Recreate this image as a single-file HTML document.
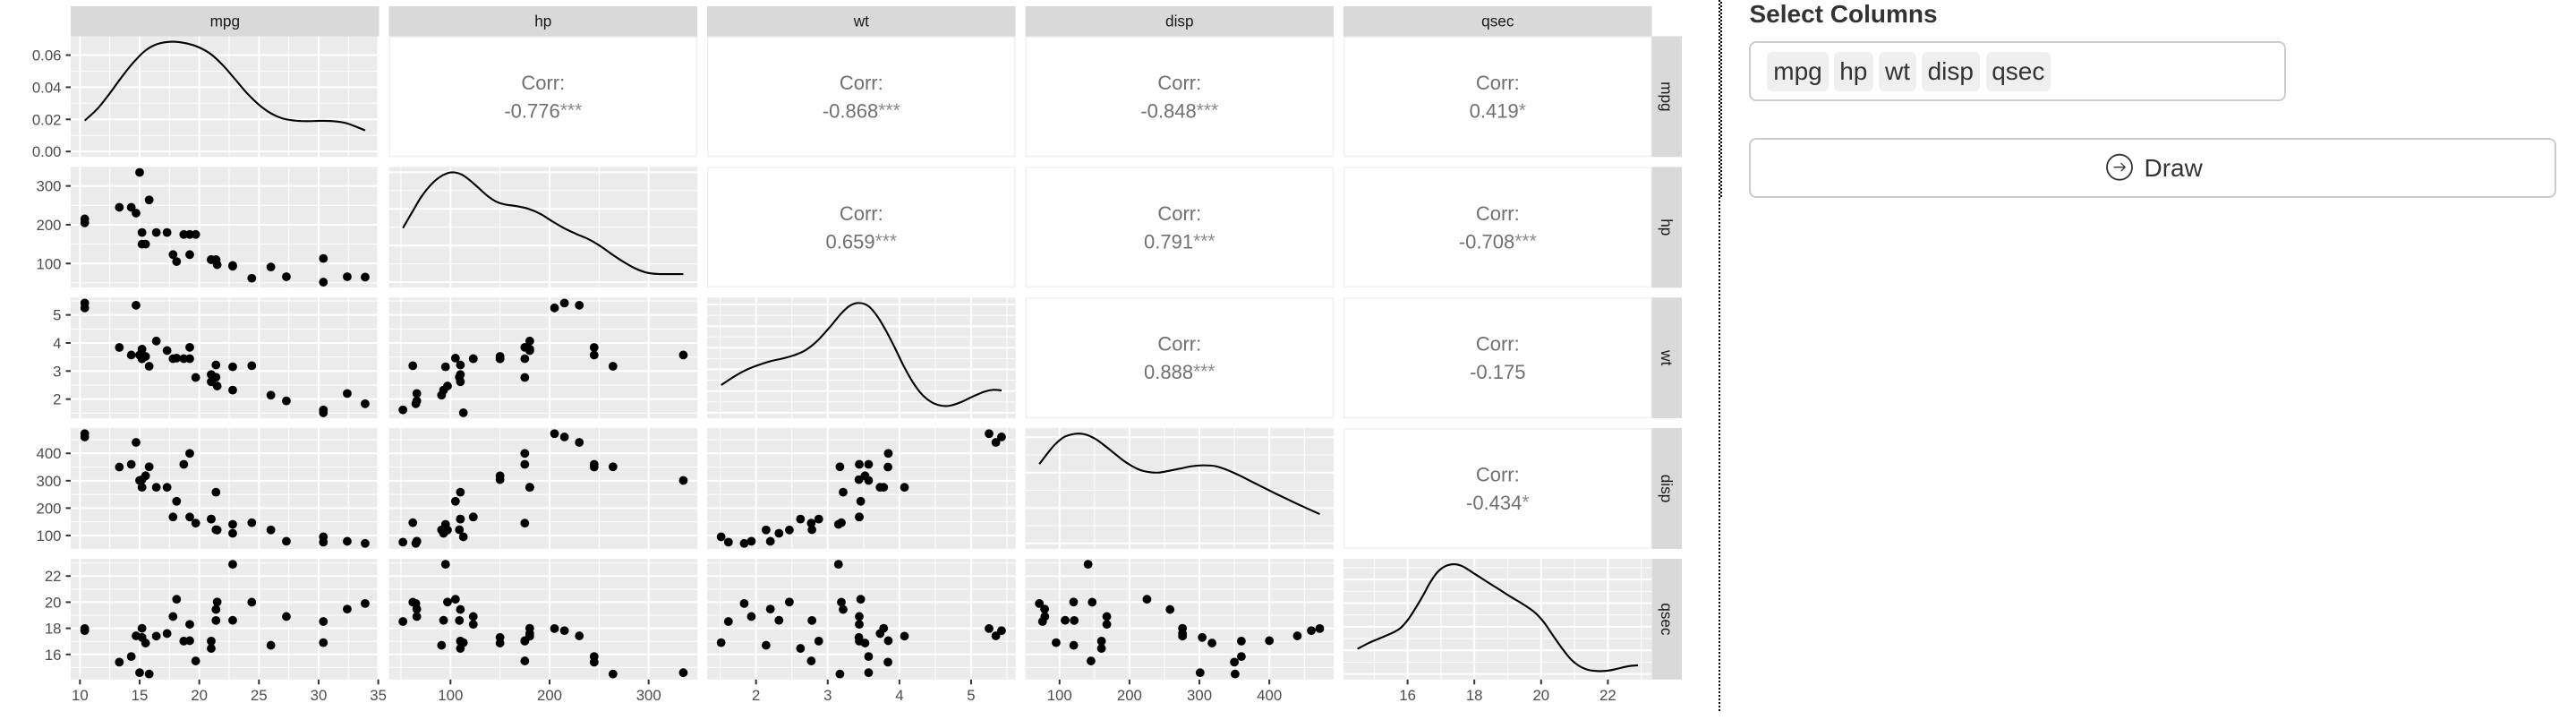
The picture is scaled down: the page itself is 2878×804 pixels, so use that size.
<!DOCTYPE html>
<html lang="en">
<head>
<meta charset="utf-8">
<title>Pairs plot</title>
<style>
html,body{margin:0;padding:0;background:#fff;}
body{position:relative;width:2878px;height:804px;overflow:hidden;font-family:"Liberation Sans",Arial,sans-serif;color:#333;}
#chart{position:absolute;left:0;top:0;}
.abs{position:absolute;box-sizing:border-box;}
.tag{position:absolute;top:58px;height:43.7px;background:#efefef;border-radius:6px;font-size:28px;line-height:32px;padding-top:6.3px;text-align:center;color:#333;box-sizing:border-box;}
</style>
</head>
<body>
<svg id="chart" width="2878" height="804" viewBox="0 0 2878 804"></svg>

<svg class="abs" style="left:1920px;top:0" width="4" height="800">
  <line x1="1" y1="0" x2="1" y2="795" stroke="#000" stroke-width="2" stroke-dasharray="2 2"/>
  <line x1="3" y1="2" x2="3" y2="222" stroke="#000" stroke-width="2" stroke-dasharray="2 2"/>
</svg>

<div class="abs" style="left:1954.5px;top:0.3px;font-size:28px;line-height:32px;font-weight:bold;color:#333;white-space:nowrap">Select Columns</div>
<div class="abs" style="left:1954px;top:46.3px;width:599.5px;height:67px;border:2px solid #ccc;border-radius:8px;background:#fff"></div>
<div class="tag" style="left:1974px;width:69px">mpg</div>
<div class="tag" style="left:2049px;width:43.6px">hp</div>
<div class="tag" style="left:2099px;width:42px">wt</div>
<div class="tag" style="left:2147px;width:64.6px">disp</div>
<div class="tag" style="left:2218.6px;width:72.4px">qsec</div>

<div class="abs" style="left:1954px;top:154.3px;width:902px;height:67px;border:2px solid #ccc;border-radius:8px;background:#fff"></div>
<svg class="abs" style="left:2352px;top:171px" width="32" height="32" viewBox="0 0 32 32">
  <circle cx="16" cy="15.7" r="14" fill="none" stroke="#333" stroke-width="1.8"/>
  <path d="M9.6 15.7H22.2M17.6 11.2L22.2 15.7L17.6 20.2" fill="none" stroke="#333" stroke-width="1.3"/>
</svg>
<div class="abs" style="left:2395.5px;top:172.3px;font-size:28px;line-height:32px;color:#333;white-space:nowrap">Draw</div>

<script>
const variables = ['mpg', 'hp', 'wt', 'disp', 'qsec'];

const mpgValues = [21, 21, 22.8, 21.4, 18.7, 18.1, 14.3, 24.4, 22.8, 19.2, 17.8, 16.4, 17.3, 15.2, 10.4, 10.4, 14.7, 32.4, 30.4, 33.9, 21.5, 15.5, 15.2, 13.3, 19.2, 27.3, 26, 30.4, 15.8, 19.7, 15, 21.4];
const hpValues = [110, 110, 93, 110, 175, 105, 245, 62, 95, 123, 123, 180, 180, 180, 205, 215, 230, 66, 52, 65, 97, 150, 150, 245, 175, 66, 91, 113, 264, 175, 335, 109];
const wtValues = [2.62, 2.875, 2.32, 3.215, 3.44, 3.46, 3.57, 3.19, 3.15, 3.44, 3.44, 4.07, 3.73, 3.78, 5.25, 5.424, 5.345, 2.2, 1.615, 1.835, 2.465, 3.52, 3.435, 3.84, 3.845, 1.935, 2.14, 1.513, 3.17, 2.77, 3.57, 2.78];
const dispValues = [160, 160, 108, 258, 360, 225, 360, 146.7, 140.8, 167.6, 167.6, 275.8, 275.8, 275.8, 472, 460, 440, 78.7, 75.7, 71.1, 120.1, 318, 304, 350, 400, 79, 120.3, 95.1, 351, 145, 301, 121];
const qsecValues = [16.46, 17.02, 18.61, 19.44, 17.02, 20.22, 15.84, 20, 22.9, 18.3, 18.9, 17.4, 17.6, 18, 17.98, 17.82, 17.42, 19.47, 18.52, 19.9, 20.01, 16.87, 17.3, 15.41, 17.05, 18.9, 16.7, 16.9, 14.5, 15.5, 14.6, 18.6];

const mpgDensityX = [10.4, 11.475, 12.475, 13.475, 14.475, 15.475, 16.475, 17.725, 18.975, 19.975, 20.975, 21.975, 22.975, 23.975, 24.975, 25.975, 26.975, 27.975, 28.975, 30.225, 31.225, 32.225, 32.975, 33.9];
const mpgDensityY = [0.01926, 0.02667, 0.03593, 0.04611, 0.05537, 0.06278, 0.06685, 0.06833, 0.06722, 0.06481, 0.06056, 0.0537, 0.04519, 0.03648, 0.02926, 0.02389, 0.02056, 0.01926, 0.01889, 0.01907, 0.01889, 0.01778, 0.01593, 0.01315];
const hpDensityX = [52, 61.5, 70.5, 79.5, 88.6, 97.6, 103.6, 111.1, 118.7, 127.7, 136.7, 145.7, 154.8, 166.8, 178.8, 190.9, 202.9, 214.9, 227, 239, 251, 263, 275, 287, 299, 311, 323, 335];
const hpDensityY = [0.002955, 0.003837, 0.004653, 0.005274, 0.005714, 0.005959, 0.005992, 0.005878, 0.0056, 0.005176, 0.004735, 0.004408, 0.004245, 0.004147, 0.004, 0.003722, 0.003314, 0.002939, 0.002629, 0.002351, 0.001976, 0.001518, 0.001094, 0.000735, 0.000506, 0.000441, 0.000441, 0.000441];
const wtDensityX = [1.513, 1.697, 1.863, 2.029, 2.195, 2.361, 2.527, 2.694, 2.86, 3.026, 3.192, 3.316, 3.441, 3.566, 3.69, 3.815, 3.939, 4.064, 4.189, 4.313, 4.438, 4.562, 4.687, 4.853, 5.019, 5.185, 5.31, 5.424];
const wtDensityY = [0.1277, 0.1676, 0.1978, 0.2198, 0.2376, 0.25, 0.2651, 0.2898, 0.3338, 0.3942, 0.4602, 0.4959, 0.5069, 0.4931, 0.4464, 0.3777, 0.2981, 0.2129, 0.1401, 0.0852, 0.0508, 0.0343, 0.0316, 0.0481, 0.0742, 0.0975, 0.1058, 0.103];
const dispDensityX = [71.1, 82.5, 93.2, 106, 118.7, 129.4, 140, 152.8, 165.6, 178.4, 191.2, 204, 216.8, 229.5, 242.3, 255.1, 272.1, 289.2, 306.2, 323.3, 340.3, 357.4, 374.4, 391.4, 408.5, 425.5, 442.6, 459.6, 472];
const dispDensityY = [0.00224, 0.002536, 0.00279, 0.003001, 0.003085, 0.003102, 0.00306, 0.002933, 0.002747, 0.002544, 0.002342, 0.002181, 0.002063, 0.002012, 0.002003, 0.002046, 0.002113, 0.002181, 0.002206, 0.002181, 0.002071, 0.001919, 0.00175, 0.001581, 0.001412, 0.001251, 0.00109, 0.000938, 0.000828];
const qsecDensityX = [14.5, 14.84, 15.2, 15.55, 15.78, 16, 16.22, 16.45, 16.67, 16.89, 17.12, 17.39, 17.65, 18.01, 18.37, 18.73, 19.08, 19.44, 19.8, 20.07, 20.33, 20.6, 20.87, 21.14, 21.41, 21.67, 21.99, 22.3, 22.61, 22.9];
const qsecDensityY = [0.05316, 0.06582, 0.07658, 0.08734, 0.09684, 0.1139, 0.1373, 0.1646, 0.193, 0.2152, 0.2278, 0.2323, 0.2278, 0.212, 0.1956, 0.1797, 0.1639, 0.1487, 0.131, 0.1108, 0.0842, 0.057, 0.0329, 0.0171, 0.0089, 0.0063, 0.007, 0.0114, 0.0165, 0.0184];

const mpgDomain = [9.225, 35.075];
const hpDomain = [37.85, 349.15];
const wtDomain = [1.3175, 5.6195];
const dispDomain = [51.055, 492.045];
const qsecDomain = [14.08, 23.32];

const mpgDensityDomain = [-0.003415, 0.071715];
const hpDensityDomain = [-0.0003, 0.006292];
const wtDensityDomain = [-0.025345, 0.532245];
const dispDensityDomain = [-0.000155, 0.003257];
const qsecDensityDomain = [-0.011615, 0.243915];

const mpgMajor = [10, 15, 20, 25, 30, 35];
const mpgMinor = [12.5, 17.5, 22.5, 27.5, 32.5];
const hpMajor = [100, 200, 300];
const hpMinor = [50, 150, 250];
const wtMajor = [2, 3, 4, 5];
const wtMinor = [1.5, 2.5, 3.5, 4.5, 5.5];
const dispMajor = [100, 200, 300, 400];
const dispMinor = [150, 250, 350, 450];
const qsecMajor = [16, 18, 20, 22];
const qsecMinor = [15, 17, 19, 21, 23];

const mpgDensityMajor = [0, 0.02, 0.04, 0.06];
const mpgDensityMinor = [0.01, 0.03, 0.05];
const mpgDensityLabels = ['0.00', '0.02', '0.04', '0.06'];
const hpDensityMajor = [0, 0.002, 0.004, 0.006];
const hpDensityMinor = [0.001, 0.003, 0.005];
const wtDensityMajor = [0, 0.1, 0.2, 0.3, 0.4, 0.5];
const wtDensityMinor = [0.05, 0.15, 0.25, 0.35, 0.45];
const dispDensityMajor = [0, 0.001, 0.002, 0.003];
const dispDensityMinor = [0.0005, 0.0015, 0.0025];
const qsecDensityMajor = [0, 0.05, 0.1, 0.15, 0.2];
const qsecDensityMinor = [0.025, 0.075, 0.125, 0.175, 0.225];

const corrHpMpg = '-0.776***';
const corrWtMpg = '-0.868***';
const corrDispMpg = '-0.848***';
const corrQsecMpg = '0.419*';
const corrWtHp = '0.659***';
const corrDispHp = '0.791***';
const corrQsecHp = '-0.708***';
const corrDispWt = '0.888***';
const corrQsecWt = '-0.175';
const corrQsecDisp = '-0.434*';

const valuesOf = [mpgValues, hpValues, wtValues, dispValues, qsecValues];
const domains = [mpgDomain, hpDomain, wtDomain, dispDomain, qsecDomain];
const majors = [mpgMajor, hpMajor, wtMajor, dispMajor, qsecMajor];
const minors = [mpgMinor, hpMinor, wtMinor, dispMinor, qsecMinor];
const densityXs = [mpgDensityX, hpDensityX, wtDensityX, dispDensityX, qsecDensityX];
const densityYs = [mpgDensityY, hpDensityY, wtDensityY, dispDensityY, qsecDensityY];
const densityDomains = [mpgDensityDomain, hpDensityDomain, wtDensityDomain, dispDensityDomain, qsecDensityDomain];
const densityMajors = [mpgDensityMajor, hpDensityMajor, wtDensityMajor, dispDensityMajor, qsecDensityMajor];
const densityMinors = [mpgDensityMinor, hpDensityMinor, wtDensityMinor, dispDensityMinor, qsecDensityMinor];
const corrRows = [
  [null, corrHpMpg, corrWtMpg, corrDispMpg, corrQsecMpg],
  [null, null, corrWtHp, corrDispHp, corrQsecHp],
  [null, null, null, corrDispWt, corrQsecWt],
  [null, null, null, null, corrQsecDisp]
];

const NS = 'http://www.w3.org/2000/svg';
const root = document.getElementById('chart');
const FONT = '"Liberation Sans", Arial, sans-serif';
const PANEL_W = 344.6;
const PANEL_H = 134.8;
const colLeft = function (c) { return 79 + c * 355.5; };
const rowTop = function (r) { return 40.5 + r * 145.87; };

function make(tag, attrs, parent) {
  const el = document.createElementNS(NS, tag);
  Object.keys(attrs).forEach(function (k) { el.setAttribute(k, attrs[k]); });
  parent.appendChild(el);
  return el;
}
function xScale(c, v) {
  const d = domains[c];
  return colLeft(c) + (v - d[0]) / (d[1] - d[0]) * PANEL_W;
}
function yScale(r, v, dom) {
  return rowTop(r) + PANEL_H - (v - dom[0]) / (dom[1] - dom[0]) * PANEL_H;
}
function smoothPath(pts) {
  let p = 'M' + pts[0][0].toFixed(2) + ' ' + pts[0][1].toFixed(2);
  for (let i = 0; i < pts.length - 1; i++) {
    const a = pts[Math.max(i - 1, 0)], b = pts[i], c = pts[i + 1], d = pts[Math.min(i + 2, pts.length - 1)];
    const c1x = b[0] + (c[0] - a[0]) / 6, c1y = b[1] + (c[1] - a[1]) / 6;
    const c2x = c[0] - (d[0] - b[0]) / 6, c2y = c[1] - (d[1] - b[1]) / 6;
    p += 'C' + c1x.toFixed(2) + ' ' + c1y.toFixed(2) + ' ' + c2x.toFixed(2) + ' ' + c2y.toFixed(2) + ' ' + c[0].toFixed(2) + ' ' + c[1].toFixed(2);
  }
  return p;
}
function drawGrid(g, c, r, yDom, yMajor, yMinor) {
  const L = colLeft(c), T = rowTop(r);
  yMinor.forEach(function (v) {
    const y = yScale(r, v, yDom);
    const ln = make('line', { x1: L, x2: L + PANEL_W, y1: y, y2: y, stroke: '#fff', 'stroke-width': 1 }, g);
    
    
  });
  minors[c].forEach(function (v) {
    const x = xScale(c, v);
    const ln = make('line', { x1: x, x2: x, y1: T, y2: T + PANEL_H, stroke: '#fff', 'stroke-width': 1 }, g);
    
    
  });
  yMajor.forEach(function (v) {
    const y = yScale(r, v, yDom);
    const ln = make('line', { x1: L, x2: L + PANEL_W, y1: y, y2: y, stroke: '#fff', 'stroke-width': 2 }, g);
    
    
  });
  majors[c].forEach(function (v) {
    const x = xScale(c, v);
    const ln = make('line', { x1: x, x2: x, y1: T, y2: T + PANEL_H, stroke: '#fff', 'stroke-width': 2 }, g);
    
    
  });
}

for (let r = 0; r < 5; r++) {
  for (let c = 0; c < 5; c++) {
    const L = colLeft(c), T = rowTop(r);
    const g = make('g', {}, root);
    if (c > r) {
      
      
      make('rect', { x: L + 0.75, y: T + 0.75, width: PANEL_W - 1.5, height: PANEL_H - 1.5, fill: '#fff', stroke: '#f0f0f0', 'stroke-width': 1.5 }, g);
      const cx = L + PANEL_W / 2;
      const t1 = make('text', { x: cx, y: T + 59.5, 'text-anchor': 'middle', 'font-family': FONT, 'font-size': 22, fill: '#707070' }, g);
      t1.textContent = 'Corr:';
      
      
      const t2 = make('text', { x: cx, y: T + 91, 'text-anchor': 'middle', 'font-family': FONT, 'font-size': 22, fill: '#707070' }, g);
      
      
      const label = corrRows[r][c];
      const starAt = label.indexOf('*');
      const numberPart = starAt < 0 ? label : label.slice(0, starAt);
      const starPart = starAt < 0 ? '' : label.slice(starAt);
      t2.appendChild(document.createTextNode(numberPart));
      if (starPart) {
        const st = make('tspan', { 'font-size': 21, fill: '#8a8a8a', dy: -1.5 }, t2);
        st.textContent = starPart;
        
        
      }
    } else if (c === r) {
      
      
      make('rect', { x: L, y: T, width: PANEL_W, height: PANEL_H, fill: '#ebebeb' }, g);
      const dom = densityDomains[c];
      drawGrid(g, c, r, dom, densityMajors[c], densityMinors[c]);
      const pts = densityXs[c].map(function (x, i) {
        return [xScale(c, x), yScale(r, densityYs[c][i], dom)];
      });
      const path = make('path', { d: smoothPath(pts), fill: 'none', stroke: '#000', 'stroke-width': 2.1 }, g);
      
      
    } else {
      
      
      make('rect', { x: L, y: T, width: PANEL_W, height: PANEL_H, fill: '#ebebeb' }, g);
      drawGrid(g, c, r, domains[r], majors[r], minors[r]);
      valuesOf[c].forEach(function (xv, i) {
        const pt = make('circle', { cx: xScale(c, xv), cy: yScale(r, valuesOf[r][i], domains[r]), r: 4.9, fill: '#000' }, g);
        
        
      });
    }
  }
}

variables.forEach(function (name, c) {
  const L = colLeft(c);
  const s = make('rect', { x: L, y: 7, width: PANEL_W, height: 33.5, fill: '#d9d9d9' }, root);
  
  
  const t = make('text', { x: L + PANEL_W / 2, y: 29.6, 'text-anchor': 'middle', 'font-family': FONT, 'font-size': 17.2, fill: '#1a1a1a' }, root);
  t.textContent = name;
  
  
});

variables.forEach(function (name, r) {
  const T = rowTop(r);
  const s = make('rect', { x: 1845.6, y: T, width: 33.4, height: PANEL_H, fill: '#d9d9d9' }, root);
  
  
  const t = make('text', { transform: 'translate(1856.2 ' + (T + PANEL_H / 2) + ') rotate(90)', 'text-anchor': 'middle', 'font-family': FONT, 'font-size': 17.2, fill: '#1a1a1a' }, root);
  t.textContent = name;
  
  
});

function yAxisTick(y, label) {
  const tk = make('line', { x1: 73.5, x2: 79, y1: y, y2: y, stroke: '#333', 'stroke-width': 2 }, root);
  
  
  const t = make('text', { x: 68.5, y: y + 6, 'text-anchor': 'end', 'font-family': FONT, 'font-size': 16.8, fill: '#4d4d4d' }, root);
  t.textContent = label;
  
  
}
mpgDensityMajor.forEach(function (v, i) {
  yAxisTick(yScale(0, v, mpgDensityDomain), mpgDensityLabels[i]);
});
[1, 2, 3, 4].forEach(function (r) {
  majors[r].forEach(function (v) {
    yAxisTick(yScale(r, v, domains[r]), String(v));
  });
});
const xAxisBottom = rowTop(4) + PANEL_H;
variables.forEach(function (name, c) {
  majors[c].forEach(function (v) {
    const x = xScale(c, v);
    const tk = make('line', { x1: x, x2: x, y1: xAxisBottom, y2: xAxisBottom + 5.5, stroke: '#333', 'stroke-width': 2 }, root);
    
    
    const t = make('text', { x: x, y: 782, 'text-anchor': 'middle', 'font-family': FONT, 'font-size': 16.8, fill: '#4d4d4d' }, root);
    t.textContent = String(v);
    
    
  });
});
</script>
</body>
</html>
